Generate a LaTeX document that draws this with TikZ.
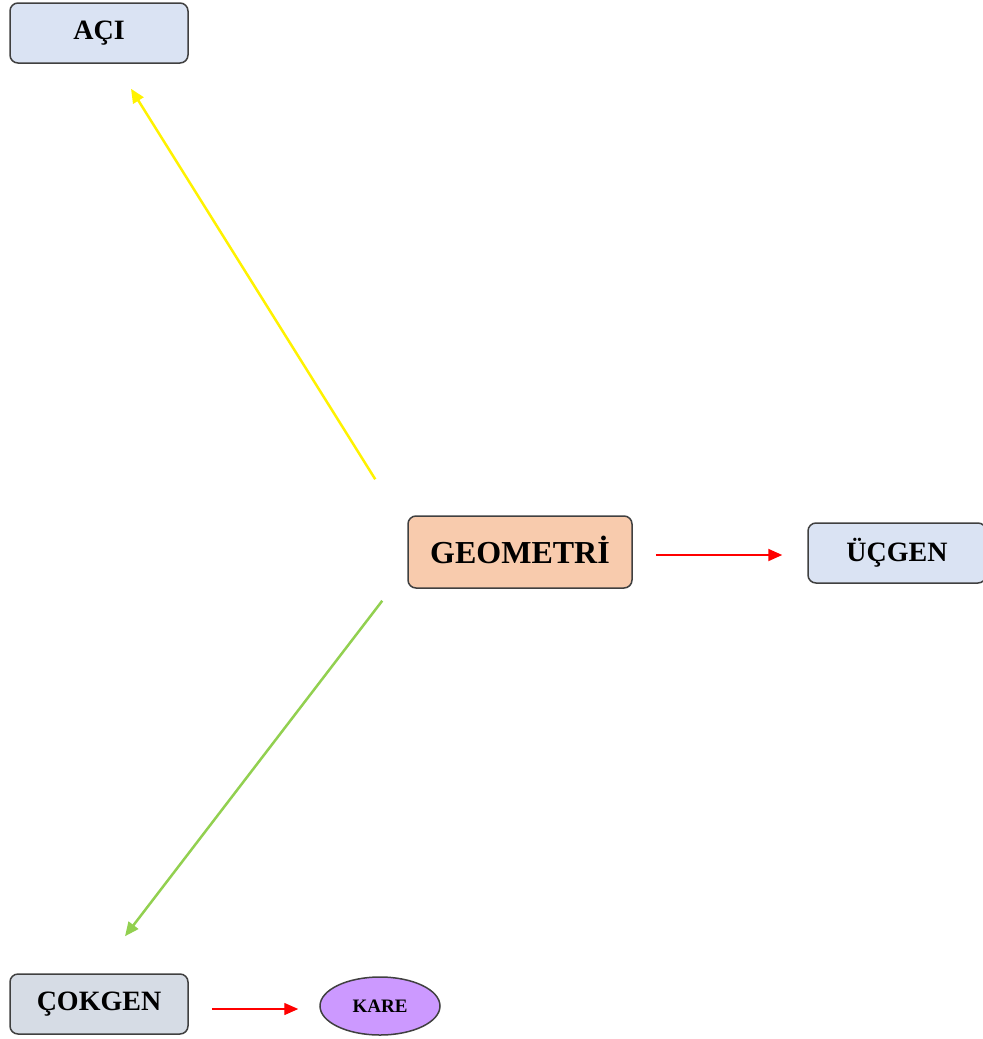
\documentclass[tikz,border=0pt]{standalone}
\usepackage{fontspec}
\setmainfont{Liberation Serif}
\usetikzlibrary{arrows.meta,calc,shapes.geometric}
\definecolor{kutumavi}{HTML}{DAE3F3}
\definecolor{kutugri}{HTML}{D6DCE5}
\definecolor{kututuruncu}{HTML}{F8CBAD}
\definecolor{kutumor}{HTML}{CC99FF}
\definecolor{okyesil}{HTML}{92D050}
\definecolor{cerceve}{HTML}{404040}
\tikzset{
  kutu/.style={draw=cerceve, line width=0.75pt, rounded corners=4pt,
    minimum width=89pt, minimum height=30pt, inner sep=0pt,
    font=\fontsize{14pt}{16pt}\selectfont\bfseries},
  ok/.style={-{Triangle[length=7pt,width=6pt]}},
}
\begin{document}
\begin{tikzpicture}[x=0.5pt, y=-0.5pt]
      \useasboundingbox (0, 0) rectangle (983, 1039);
      % kutular
      \node[kutu, fill=kutumavi] (aci) at (99, 33) {AÇI};
      \node[kutu, fill=kututuruncu, minimum width=112pt, minimum height=36pt,
        font=\fontsize{16pt}{18pt}\selectfont\bfseries] (geo) at (520, 552) {\raisebox{2.5pt}{GEOMETRİ}};
      \node[kutu, fill=kutumavi] (ucgen) at (897, 553) {ÜÇGEN};
      \node[kutu, fill=kutugri] (cokgen) at (99, 1004) {ÇOKGEN};
      \node[ellipse, draw=cerceve, line width=0.75pt, fill=kutumor, minimum width=60pt,
        minimum height=29pt, inner sep=0pt, font=\fontsize{9.5pt}{10pt}\selectfont\bfseries]
        (kare) at (380, 1006) {KARE};
      % ok uclari
      \coordinate (ybas) at ($(geo.north west)+(-32, -36)$);
      \coordinate (yson) at ($(aci.south)+(32, 25)$);
      \coordinate (gbas) at ($(geo.south west)+(-25, 12)$);
      \coordinate (gson) at ($(cokgen.north)+(26, -37)$);
      % oklar
      \draw[ok, yellow, line width=1.25pt] (ybas) -- (yson);
      \draw[ok, okyesil, line width=1.25pt] (gbas) -- (gson);
      \draw[ok, red, line width=1pt, shorten <=11.5pt, shorten >=12.5pt]
        ([yshift=-1.5pt]geo.east) -- ([yshift=-1pt]ucgen.west);
      \draw[ok, red, line width=0.7pt, shorten <=11.5pt, shorten >=10.5pt]
        ([yshift=-2.5pt]cokgen.east) -- ([yshift=-1.5pt]kare.west);
    \end{tikzpicture}
\end{document}
